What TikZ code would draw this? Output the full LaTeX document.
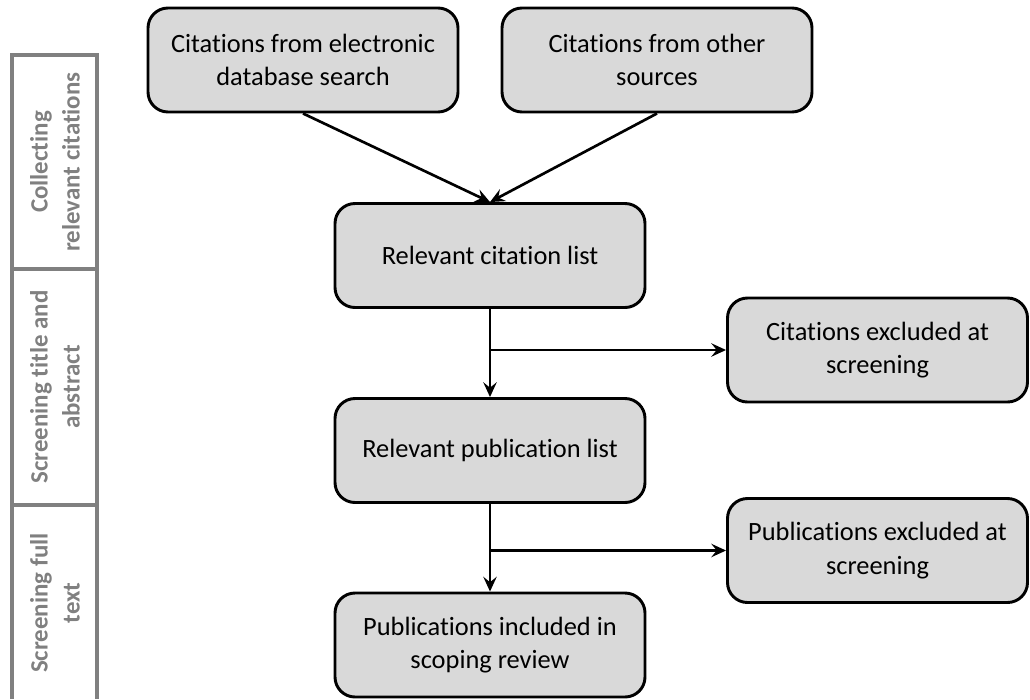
\documentclass[tikz,border=0pt]{standalone}
\usepackage{fontspec}
\setmainfont{Carlito}[Ligatures=NoCommon]
\usetikzlibrary{arrows.meta}
\definecolor{boxfill}{HTML}{D9D9D9}
\definecolor{bargray}{HTML}{808080}
\begin{document}
\begin{tikzpicture}[x=0.75pt,y=-0.75pt,
  flowbox/.style={draw=black, line width=2.2pt, fill=boxfill, rounded corners=15pt,
    align=center, font=\fontsize{19.8}{25}\selectfont, inner sep=0pt,
    minimum width=232.5pt, minimum height=78pt},
  sidebox/.style={flowbox, minimum width=225pt},
  arr/.style={line width=2pt, -{Stealth[length=11pt,width=10pt,inset=4pt]}},
  barline/.style={draw=bargray, line width=2.4pt},
  bartext/.style={rotate=90, text=bargray, align=center, font=\bfseries\fontsize{18.7}{24}\selectfont}]
\useasboundingbox (0,0) rectangle (1030,699);
% side bar
\draw[barline] (12,699) -- (12,55) -- (97,55) -- (97,699);
\draw[barline] (12,269) -- (97,269);
\draw[barline] (12,505) -- (97,505);
\node[bartext] (t1) at (55,162) {Collecting\\relevant citations};
\node[bartext] (t2) at (55,387) {Screening title and\\abstract};
\node[bartext] (t3) at (55,603) {Screening full\\text};
% boxes
\node[flowbox] (b1) at (303,60) {Citations from electronic\\database search};
\node[flowbox] (b2) at (657,60) {Citations from other\\sources};
\node[flowbox] (b3) at (490,255.5) {Relevant citation list};
\node[flowbox] (b4) at (490,450.5) {Relevant publication list};
\node[flowbox] (b5) at (490,645) {Publications included in\\scoping review};
\node[sidebox] (b6) at (877.5,350) {Citations excluded at\\screening};
\node[sidebox] (b7) at (877.5,550.5) {Publications excluded at\\screening};
% connectors
\draw[arr] (b1.south) -- (b3.north);
\draw[arr] (b2.south) -- (b3.north);
\draw[arr] (b3.south) -- (b4.north);
\draw[arr] (b4.south) -- (b5.north);
\coordinate (j1) at (b3.south |- b6.west);
\coordinate (j2) at (b4.south |- b7.west);
\draw[arr] (j1) -- (b6.west);
\draw[arr] (j2) -- (b7.west);
\end{tikzpicture}
\end{document}
